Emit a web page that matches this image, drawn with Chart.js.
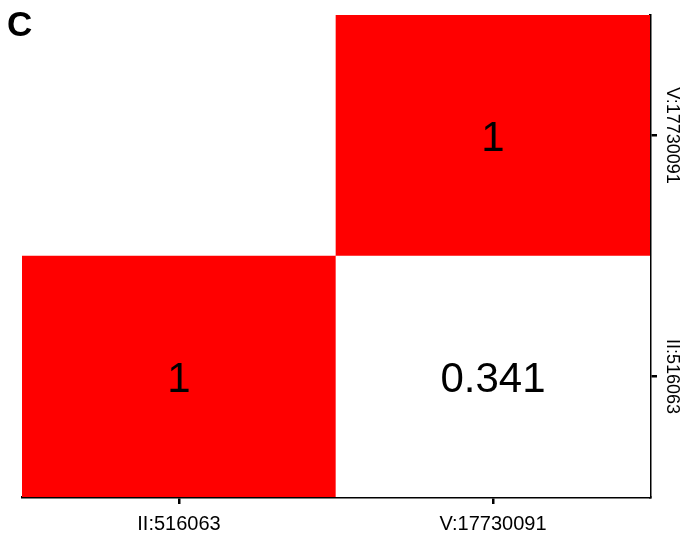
<!DOCTYPE html>
<html>
<head>
<meta charset="utf-8">
<script src="https://cdn.jsdelivr.net/npm/chart.js@4"></script>
<style>
  html, body { margin: 0; padding: 0; background: #fff; }
  canvas { display: block; }
</style>
</head>
<body>
<canvas id="ld" width="687" height="537" style="width:687px;height:537px"></canvas>
<script>
// markers along the bottom axis (left to right)
const col_labels = ['II:516063', 'V:17730091'];
// markers along the right axis (bottom to top)
const row_labels = ['II:516063', 'V:17730091'];
// r2 values per row, one entry per column (null = empty cell)
const row_ii = [1, 0.341];
const row_v = [null, 1];
const panel_letter = 'C';

const rows = [row_ii, row_v];

function cell_color(v) {
  return v >= 0.8 ? '#ff0000' : '#ffffff';
}

function make_dataset(values, row_idx) {
  return {
    label: row_labels[row_idx],
    data: values.map(v => v == null ? null : [row_idx, row_idx + 1]),
    values: values,
    backgroundColor: values.map(v => v == null ? 'rgba(0,0,0,0)' : cell_color(v)),
    borderWidth: 0,
    barPercentage: 1,
    categoryPercentage: 1
  };
}

const cell_text_plugin = {
  id: 'cellText',
  afterDatasetsDraw: (chart) => {
    const ctx = chart.ctx;
    ctx.save();
    ctx.fillStyle = '#000';
    ctx.font = '42px "Liberation Sans", Arial, sans-serif';
    ctx.textAlign = 'center';
    ctx.textBaseline = 'middle';
    chart.data.datasets.forEach((ds, i) => {
      const meta = chart.getDatasetMeta(i);
      meta.data.forEach((bar, j) => {
        const v = ds.values[j];
        if (v == null) return;
        // digits sit a little high with 'middle', nudge down
        ctx.fillText(String(v), bar.x, (bar.y + bar.base) / 2 + 4);
      });
    });
    ctx.restore();
  }
};

const side_labels_plugin = {
  id: 'sideLabels',
  afterDraw: (chart) => {
    const ctx = chart.ctx;
    const ys = chart.scales.y;
    ctx.save();
    ctx.fillStyle = '#000';
    ctx.font = '18px "Liberation Sans", Arial, sans-serif';
    ctx.textAlign = 'center';
    ctx.textBaseline = 'middle';
    row_labels.forEach((lab, i) => {
      const y = ys.getPixelForValue(i + 0.5);
      ctx.save();
      ctx.translate(ys.right - 15, y);
      ctx.rotate(Math.PI / 2);
      ctx.fillText(lab, 0, 0);
      ctx.restore();
    });
    // panel letter
    ctx.font = 'bold 35px "Liberation Sans", Arial, sans-serif';
    ctx.textAlign = 'left';
    ctx.textBaseline = 'alphabetic';
    ctx.fillText(panel_letter, 7, 36);
    ctx.restore();
  }
};

Chart.defaults.color = '#000';

new Chart(document.getElementById('ld'), {
  type: 'bar',
  data: {
    labels: col_labels,
    datasets: rows.map(make_dataset)
  },
  options: {
    responsive: false,
    animation: false,
    layout: { padding: { left: 22, top: 15, right: 0, bottom: 0 } },
    plugins: { legend: { display: false }, tooltip: { enabled: false } },
    scales: {
      x: {
        stacked: true,
        offset: true,
        afterFit: (s) => { s.height = 40; },
        border: { display: true, color: '#000', width: 2.5 },
        grid: { offset: false, drawOnChartArea: false, drawTicks: true, tickLength: 7, color: '#000', lineWidth: 2.5 },
        ticks: { font: { family: '"Liberation Sans", Arial, sans-serif', size: 20 }, color: '#000', padding: 8, maxRotation: 0 }
      },
      y: {
        type: 'linear',
        position: 'right',
        min: 0,
        max: 2,
        afterBuildTicks: (s) => { s.ticks = [{ value: 0.5 }, { value: 1.5 }]; },
        afterFit: (s) => { s.width = 37; },
        border: { display: true, color: '#000', width: 2.5 },
        grid: { drawOnChartArea: false, drawTicks: true, tickLength: 7, color: '#000', lineWidth: 2.5 },
        ticks: { display: false }
      }
    }
  },
  plugins: [cell_text_plugin, side_labels_plugin]
});
</script>
</body>
</html>
